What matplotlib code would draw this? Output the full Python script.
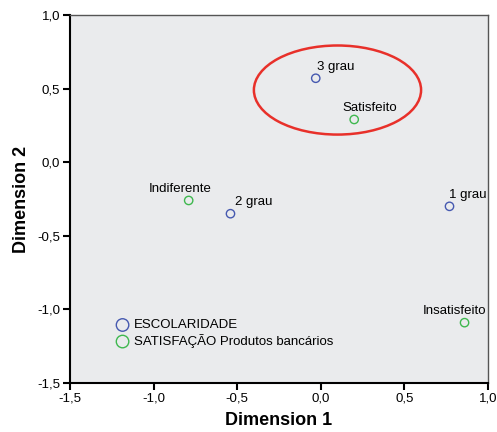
import matplotlib
matplotlib.use('Agg')
import matplotlib.pyplot as plt
from matplotlib.patches import Ellipse

plt.rcParams['font.family'] = ['Liberation Sans', 'DejaVu Sans']

# category points (dimension 1, dimension 2)
escol_labels = ['3 grau', '2 grau', '1 grau']
escol_x = [-0.03, -0.54, 0.77]
escol_y = [0.57, -0.35, -0.30]

satis_labels = ['Satisfeito', 'Indiferente', 'Insatisfeito']
satis_x = [0.20, -0.79, 0.86]
satis_y = [0.29, -0.26, -1.09]

# label offsets in points (dx, dy)
escol_offsets = [(14, 4), (17, 4), (13, 4)]
satis_offsets = [(11, 4), (-6, 4), (-7, 4)]

blue = '#4659b0'
green = '#3fb84f'

fig = plt.figure(figsize=(4.97, 4.32), dpi=100)
ax = fig.add_axes([0.1408, 0.1134, 0.841, 0.852])
ax.set_facecolor('#eaebed')

ax.scatter(escol_x, escol_y, s=36, facecolors='none', edgecolors=blue,
           linewidths=1.0, label='ESCOLARIDADE', zorder=3)
ax.scatter(satis_x, satis_y, s=36, facecolors='none', edgecolors=green,
           linewidths=1.0, label='SATISFAÇÃO Produtos bancários', zorder=3)

for lab, x, y, off in zip(escol_labels, escol_x, escol_y, escol_offsets):
    ax.annotate(lab, (x, y), xytext=off, textcoords='offset points',
                ha='center', va='bottom', fontsize=9.5)
for lab, x, y, off in zip(satis_labels, satis_x, satis_y, satis_offsets):
    ax.annotate(lab, (x, y), xytext=off, textcoords='offset points',
                ha='center', va='bottom', fontsize=9.5)

ax.add_patch(Ellipse((0.10, 0.49), 1.0, 0.605, fill=False,
                     edgecolor='#e8302a', linewidth=1.8, zorder=2))

ax.set_xlim(-1.5, 1.0)
ax.set_ylim(-1.5, 1.0)
ticks = [-1.5, -1.0, -0.5, 0.0, 0.5, 1.0]
ax.set_xticks(ticks)
ax.set_yticks(ticks)
ax.set_xticklabels([f'{t:.1f}'.replace('.', ',') for t in ticks], fontsize=9.5)
ax.set_yticklabels([f'{t:.1f}'.replace('.', ',') for t in ticks], fontsize=9.5)
ax.tick_params(direction='out', length=5, width=1.5, colors='black', pad=2)

ax.spines['left'].set_linewidth(1.5)
ax.spines['bottom'].set_linewidth(1.5)
ax.spines['top'].set_color('#555555')
ax.spines['right'].set_color('#555555')
ax.spines['top'].set_linewidth(1.0)
ax.spines['right'].set_linewidth(1.0)

ax.set_xlabel('Dimension 1', fontsize=13, fontweight='bold', labelpad=5)
ax.set_ylabel('Dimension 2', fontsize=13, fontweight='bold', labelpad=5)

leg = ax.legend(loc='lower left', bbox_to_anchor=(0.08, 0.07), frameon=False,
                fontsize=9.5, handletextpad=0.1, borderpad=0.2,
                labelspacing=0.2, markerscale=1.5, handlelength=1.5)

fig.savefig('out.png', dpi=100)
